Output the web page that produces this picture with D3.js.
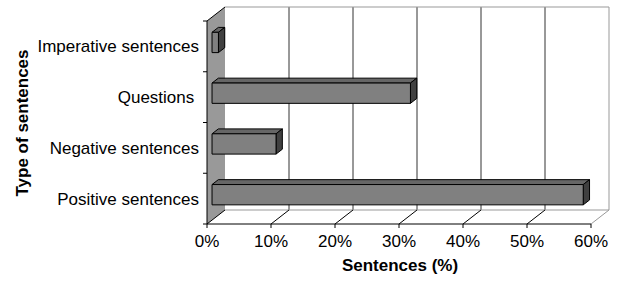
<!DOCTYPE html>
<html>
<head>
<meta charset="utf-8">
<script src="https://cdn.jsdelivr.net/npm/d3@7"></script>
<style>
  body { margin: 0; background: #fff; }
  text { font-family: Arial, "Liberation Sans", sans-serif; fill: #000; }
</style>
</head>
<body>
<div id="chart"></div>
<script>
// data, top to bottom as drawn
var categories = ["Imperative sentences", "Questions ", "Negative sentences", "Positive sentences"];
var values = [1, 31, 10, 58];
var xTicks = [0, 10, 20, 30, 40, 50, 60];
var xTitle = "Sentences (%)";
var yTitle = "Type of sentences";

var W = 618, H = 285;
var x0 = 207, yTop = 21, yBot = 224;   // front plane of the plot
var DX = 18, DY = 14;                   // 3d depth offset
var zFront = 0.28, zBack = 0.63;        // bar depth inside the plot
var fs = "17px";

var svg = d3.select("#chart").append("svg")
  .attr("width", W).attr("height", H);

var x = d3.scaleLinear().domain([0, 60]).range([x0, x0 + 384]);
var y = d3.scaleBand().domain(categories).range([yTop, yBot])
  .paddingInner(0.6).paddingOuter(0.3);
var yEdge = d3.scaleLinear().domain([0, categories.length]).range([yTop, yBot]);

// project a point at depth z (0 = front, 1 = back wall)
function P(px, py, z) { return [px + z * DX, py - z * DY]; }
function poly(pts) { return pts.map(function(p) { return p.join(","); }).join(" "); }

// back wall
svg.append("polygon")
  .attr("points", poly([P(x(0), yTop, 1), P(x(60), yTop, 1), P(x(60), yBot, 1), P(x(0), yBot, 1)]))
  .attr("fill", "#fff").attr("stroke", "none");

// left wall
svg.append("polygon")
  .attr("points", poly([P(x(0), yTop, 0), P(x(0), yTop, 1), P(x(0), yBot, 1), P(x(0), yBot, 0)]))
  .attr("fill", "#999").attr("stroke", "none");
svg.append("line")
  .attr("x1", x(0)).attr("y1", yTop).attr("x2", P(x(0), yTop, 1)[0]).attr("y2", P(x(0), yTop, 1)[1])
  .attr("stroke", "#000");

// gridlines on back wall + floor lines
svg.selectAll("line.grid").data(xTicks.slice(1)).enter().append("line")
  .attr("class", "grid")
  .attr("x1", function(d) { return P(x(d), yTop, 1)[0]; })
  .attr("y1", P(0, yTop, 1)[1])
  .attr("x2", function(d) { return P(x(d), yBot, 1)[0]; })
  .attr("y2", P(0, yBot, 1)[1])
  .attr("stroke", function(d) { return d === 60 ? "#999" : "#333"; });

svg.append("line")
  .attr("x1", P(x(0), yTop, 1)[0]).attr("y1", P(0, yTop, 1)[1])
  .attr("x2", P(x(60), yTop, 1)[0]).attr("y2", P(0, yTop, 1)[1])
  .attr("stroke", "#999");
svg.append("line")
  .attr("x1", P(x(0), yBot, 1)[0]).attr("y1", P(0, yBot, 1)[1])
  .attr("x2", P(x(60), yBot, 1)[0]).attr("y2", P(0, yBot, 1)[1])
  .attr("stroke", "#999");

svg.selectAll("line.floor").data(xTicks).enter().append("line")
  .attr("class", "floor")
  .attr("x1", function(d) { return x(d); }).attr("y1", yBot)
  .attr("x2", function(d) { return P(x(d), yBot, 1)[0]; })
  .attr("y2", P(0, yBot, 1)[1])
  .attr("stroke", function(d) { return d === 60 ? "#999" : "#000"; });

// bars
var bars = svg.selectAll("g.bar").data(categories).enter().append("g").attr("class", "bar");
bars.each(function(c, i) {
  var g = d3.select(this);
  var v = values[i];
  var t = y(c), b = y(c) + y.bandwidth();
  var a = P(x(0), t, zFront), bb = P(x(v), t, zFront), cc = P(x(v), b, zFront), dd = P(x(0), b, zFront);
  var a2 = P(x(0), t, zBack), b2 = P(x(v), t, zBack), c2 = P(x(v), b, zBack);
  g.append("polygon").attr("points", poly([a, bb, b2, a2]))
    .attr("fill", "#666").attr("stroke", "#000").attr("stroke-linejoin", "round");
  g.append("polygon").attr("points", poly([bb, b2, c2, cc]))
    .attr("fill", "#404040").attr("stroke", "#000").attr("stroke-linejoin", "round");
  g.append("polygon").attr("points", poly([a, bb, cc, dd]))
    .attr("fill", "#808080").attr("stroke", "#000").attr("stroke-linejoin", "round");
});

// front axes
svg.append("line").attr("x1", x(0)).attr("y1", yTop).attr("x2", x(0)).attr("y2", yBot).attr("stroke", "#000");
svg.append("line").attr("x1", x(0)).attr("y1", yBot).attr("x2", x(60)).attr("y2", yBot).attr("stroke", "#000");

svg.selectAll("line.ytick").data(d3.range(categories.length + 1)).enter().append("line")
  .attr("x1", x(0) - 4).attr("x2", x(0))
  .attr("y1", function(d) { return yEdge(d); }).attr("y2", function(d) { return yEdge(d); })
  .attr("stroke", "#000");
svg.selectAll("line.xtick").data(xTicks).enter().append("line")
  .attr("x1", function(d) { return x(d); }).attr("x2", function(d) { return x(d); })
  .attr("y1", yBot).attr("y2", yBot + 4)
  .attr("stroke", "#000");

svg.selectAll("text.xlab").data(xTicks).enter().append("text")
  .attr("x", function(d) { return x(d); }).attr("y", 247)
  .attr("text-anchor", "middle").attr("font-size", fs)
  .text(function(d) { return d + "%"; });

svg.selectAll("text.ylab").data(categories).enter().append("text")
  .attr("x", 199)
  .attr("y", function(c) { return y(c) + y.bandwidth() / 2; })
  .attr("dy", "0.36em")
  .attr("text-anchor", "end").attr("font-size", fs)
  .style("white-space", "pre")
  .text(function(c) { return c; });

// titles
svg.append("text").attr("x", 400).attr("y", 271)
  .attr("text-anchor", "middle").attr("font-size", fs).attr("font-weight", "bold")
  .text(xTitle);
svg.append("text")
  .attr("transform", "translate(28,123) rotate(-90)")
  .attr("text-anchor", "middle").attr("font-size", fs).attr("font-weight", "bold")
  .text(yTitle);
</script>
</body>
</html>
